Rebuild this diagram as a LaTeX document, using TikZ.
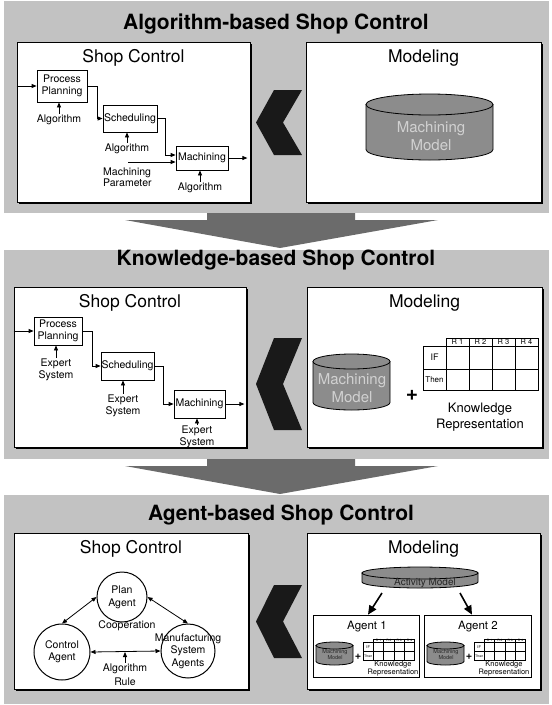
\documentclass[tikz,border=0pt]{standalone}
\usepackage{fontspec}
\setmainfont{TeX Gyre Heros}
\usetikzlibrary{positioning,arrows.meta,shadows,calc}

\definecolor{bandgray}{gray}{0.76}
\definecolor{drumgray}{gray}{0.55}
\definecolor{headgray}{gray}{0.42}
\definecolor{chevblack}{gray}{0.1}

% database drum: cx, top y, body height, x radius, y radius
\newcommand{\drum}[5]{%
  \filldraw[drumline] ({#1-#4},#2) -- ++(0,#3)
    arc[start angle=180,end angle=360,x radius=#4pt,y radius=#5pt] -- ++(0,-#3) -- cycle;
  \filldraw[drumline] (#1,#2) ellipse[x radius=#4pt,y radius=#5pt];}

\tikzset{
  band/.style={fill=bandgray},
  bandtitle/.style={font=\fontsize{21}{21}\selectfont\bfseries, anchor=base},
  panel/.style={draw, line width=1pt, fill=white, inner sep=0pt,
    drop shadow={shadow xshift=2pt, shadow yshift=-2pt, fill=black, opacity=1}},
  paneltitle/.style={font=\fontsize{17.5}{18}\selectfont, anchor=base},
  stage/.style={draw, line width=0.8pt, fill=white, inner sep=0pt, align=center,
    font=\fontsize{10.5}{12}\selectfont},
  lbl/.style={inner sep=0pt, align=center, font=\fontsize{10.5}{11.5}\selectfont},
  flow/.style={line width=0.8pt, -{Triangle[length=5pt,width=4pt]}},
  twoway/.style={line width=0.8pt, {Triangle[length=5pt,width=4pt]}-{Triangle[length=5pt,width=4pt]}},
  bigflow/.style={line width=1.6pt, -{Triangle[length=9pt,width=8pt]}},
  drumline/.style={draw=black, line width=0.8pt, fill=drumgray},
  drumtext/.style={inner sep=0pt, align=center, text=black!18},
  agentc/.style={circle, draw, line width=1pt, fill=white},
  agentbox/.style={draw, line width=0.7pt, fill=white, inner sep=0pt},
  plus/.style={font=\fontsize{21}{21}\selectfont\bfseries, inner sep=0pt},
  chevron/.style={fill=chevblack},
  downarrow/.style={fill=headgray},
  ruletab/.pic={
    \draw[line width=0.9pt] (23,0) rectangle (115,8);
    \draw[line width=0.9pt] (0,8) rectangle (115,52);
    \draw[line width=0.9pt] (0,31) -- (115,31);
    \foreach \c in {0,1,2,3}
      \draw[line width=0.9pt] ({23+23*\c},0) -- ({23+23*\c},52);
    \foreach \c in {1,...,4}
      \node[inner sep=0pt, font=\fontsize{7.5}{8}\selectfont] (-r\c) at ({23*\c-11.5+23},4.2) {R \c};
    \node[inner sep=0pt, font=\fontsize{9}{9}\selectfont] (-if) at (11.5,19.5) {IF};
    \node[inner sep=0pt, font=\fontsize{8}{8}\selectfont] (-then) at (11.5,41.5) {Then};
  }
}

\begin{document}
\begin{tikzpicture}[x=1pt,y=-1pt]
\useasboundingbox (0,0) rectangle (552,705);

% Bands
\fill[band] (4,1) rectangle (549,213);
\fill[band] (4,250) rectangle (549,459);
\fill[band] (4,495) rectangle (549,704);

% Arrows between the bands
\foreach \ya in {213,459}
  \fill[downarrow] (207,\ya) -- (355,\ya) -- (355,{\ya+7}) -- (438,{\ya+7})
    -- (280,{\ya+35}) -- (125,{\ya+7}) -- (207,{\ya+7}) -- cycle;

% Chevrons
\foreach \ct/\cb in {90/155, 338/430, 585/658}
  \fill[chevron] (274,\ct) -- (302,\ct) -- (283,{(\ct+\cb)/2}) -- (302,\cb)
    -- (274,\cb) -- (256,{(\ct+\cb)/2}) -- cycle;

% Titles
\node[bandtitle] (t1) at (276,29) {Algorithm-based Shop Control};
\node[bandtitle] (t2) at (276,265) {Knowledge-based Shop Control};
\node[bandtitle] (t3) at (281,520) {Agent-based Shop Control};

% Panels
\node[panel, minimum width=233, minimum height=160] (p1l) at (133.5,122) {};
\node[panel, minimum width=235, minimum height=160] (p1r) at (423.5,122) {};
\node[panel, minimum width=232, minimum height=160] (p2l) at (130,367) {};
\node[panel, minimum width=235, minimum height=160] (p2r) at (424.5,367) {};
\node[panel, minimum width=234, minimum height=156] (p3l) at (131,611) {};
\node[panel, minimum width=233, minimum height=156] (p3r) at (423.5,611) {};
\foreach \p in {1,2,3}{
  \node[paneltitle] (sc\p) at ([yshift=-21pt]p\p l.north) {Shop Control};
  \node[paneltitle] (mo\p) at ([yshift=-21pt]p\p r.north) {Modeling};
}

% Algorithm-based: shop control
\node[stage, minimum width=50, minimum height=32] (pp1) at (62,86) {Process\\Planning};
\node[stage, minimum width=54, minimum height=27] (sch1) at (130,118.5) {Scheduling};
\node[stage, minimum width=52, minimum height=24] (mac1) at (202,158) {Machining};
\node[lbl] (alg1a) at (59,120) {Algorithm};
\node[lbl] (alg1b) at (127,149) {Algorithm};
\node[lbl] (alg1c) at (200,188) {Algorithm};
\node[lbl, anchor=west, align=left] (par1) at (103,177) {Machining\\Parameter};
\coordinate (par1in) at (128,162);
\draw[flow] (pp1.west -| p1l.west) -- (pp1.west);
\draw[flow] (pp1.east) -- ++(10,0) |- (sch1.west);
\draw[flow] (sch1.east) -- ++(8,0) |- ([yshift=3pt]mac1.west);
\draw[flow] (par1in) -- (par1in -| mac1.west);
\draw[flow] (mac1.east) -- ++(19,0);
\foreach \a/\b in {alg1a/pp1, alg1b/sch1, alg1c/mac1}
  \draw[flow] ([yshift=1pt]\a.north) -- (\a.north |- \b.south);

% Algorithm-based: modeling
\drum{429.5}{104.5}{45}{63.5}{10.5}
\node[drumtext, font=\fontsize{15}{18}\selectfont] (mm1) at (431,136) {Machining\\Model};

% Knowledge-based: shop control
\node[stage, minimum width=48, minimum height=28] (pp2) at (58,331) {Process\\Planning};
\node[stage, minimum width=53, minimum height=28] (sch2) at (127.5,366) {Scheduling};
\node[stage, minimum width=51, minimum height=28] (mac2) at (199.5,404) {Machining};
\node[lbl] (exp2a) at (56,370) {Expert\\System};
\node[lbl] (exp2b) at (123,406) {Expert\\System};
\node[lbl] (exp2c) at (197,437) {Expert\\System};
\draw[flow] (pp2.west -| p2l.west) -- (pp2.west);
\draw[flow] (pp2.east) -- ++(10,0) |- (sch2.west);
\draw[flow] (sch2.east) -- ++(9,0) |- (mac2.west);
\draw[flow] (mac2.east) -- ++(19,0);
\foreach \a/\b in {exp2a/pp2, exp2b/sch2, exp2c/mac2}
  \draw[flow] ([yshift=1pt]\a.north) -- (\a.north |- \b.south);

% Knowledge-based: modeling
\drum{351.5}{361.5}{41}{38.5}{7.5}
\node[drumtext, font=\fontsize{15}{18}\selectfont] (mm2) at (352,388) {Machining\\Model};
\node[plus] (pl0) at (412,395) {+};
\pic (kt0) at (423,338) {ruletab};
\node[lbl, font=\fontsize{13}{16}\selectfont] (kr0) at (480,417) {Knowledge\\Representation};

% Agent-based: shop control
\node[agentc, minimum size=50] (plan) at (122,597) {};
\node[agentc, minimum size=56] (ctrl) at (62,652) {};
\node[agentc, minimum size=54] (mfg) at (188,651) {};
\node[lbl, font=\fontsize{10.5}{13}\selectfont] (plant) at (plan) {Plan\\Agent};
\node[lbl, font=\fontsize{10.5}{12}\selectfont] (ctrlt) at (ctrl) {Control\\Agent};
\node[lbl, font=\fontsize{10.5}{12.5}\selectfont] (mfgt) at (mfg) {Manufacturing\\System\\Agents};
\node[lbl] (coop) at (127,626) {Cooperation};
\node[lbl, font=\fontsize{10.5}{14}\selectfont] (algr) at (125,675) {Algorithm\\Rule};
\draw[twoway] (plan.west) -- (ctrl.north);
\draw[twoway] (plan.east) -- (mfg.north);
\draw[twoway] (ctrl.east) -- (mfg.west);
\draw[flow] ([yshift=1pt]algr.north) -- (algr.north |- ctrl.east);

% Agent-based: modeling
\drum{420}{573}{9}{58}{6}
\node[drumtext, font=\fontsize{10}{10}\selectfont, text=black!85] (act) at (425,583) {Activity Model};
\node[agentbox, minimum width=106, minimum height=62] (ag1) at (366,646) {};
\node[agentbox, minimum width=107, minimum height=62] (ag2) at (477.5,646) {};
\coordinate (actl) at (382,593);
\coordinate (actr) at (460,593);
\draw[bigflow] (actl) -- ([xshift=2pt]ag1.north);
\draw[bigflow] (actr) -- ([xshift=-5.5pt]ag2.north);
\foreach \ox/\n in {0/1,111/2}{
  \node[inner sep=0pt, font=\fontsize{11.5}{12}\selectfont] (ag\n t) at ({367+\ox},627) {Agent \n};
  \drum{334.5+\ox}{645.5}{16}{18.5}{3.5}
  \node[drumtext, font=\fontsize{5.5}{6}\selectfont, text=black!85] (mm\n a) at ({335+\ox},655) {Machining\\Model};
  \node[plus, font=\fontsize{11}{11}\selectfont\bfseries] (pl\n) at ({358+\ox},657) {+};
  \pic[xscale=0.45, yscale=0.41, transform shape] (kt\n) at ({363+\ox},639) {ruletab};
  \node[lbl, font=\fontsize{7.5}{8}\selectfont] (kr\n) at ({393+\ox},669) {Knowledge\\Representation};
}

\end{tikzpicture}
\end{document}
